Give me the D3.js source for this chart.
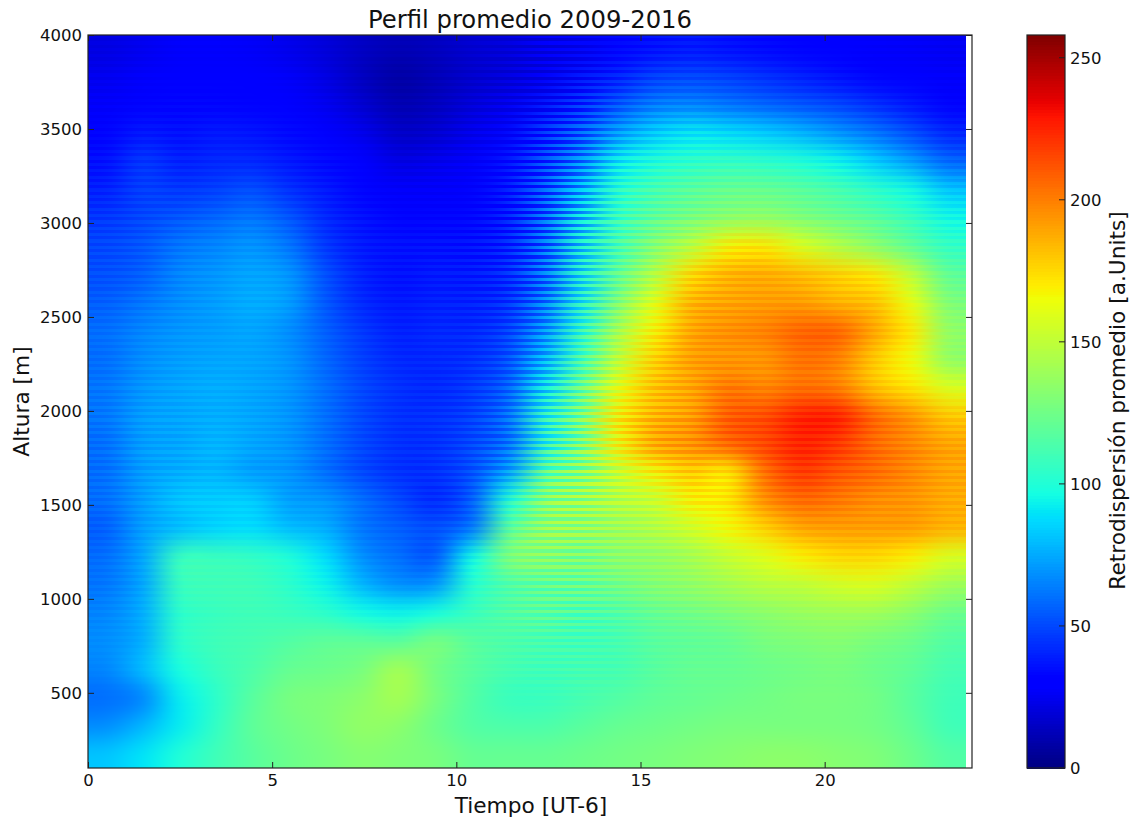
<!DOCTYPE html>
<html>
<head>
<meta charset="utf-8">
<script src="https://cdn.jsdelivr.net/npm/d3@7"></script>
<style>
    html, body { margin: 0; padding: 0; background: #fff; }
    text { font-family: "DejaVu Sans", sans-serif; fill: #111; }
</style>
</head>
<body>
<div id="chart"></div>
<script>
// centro de cada celda
var horas = [0.5,1.5,2.5,3.5,4.5,5.5,6.5,7.5,8.5,9.5,10.5,11.5,12.5,13.5,14.5,15.5,16.5,17.5,18.5,19.5,20.5,21.5,22.5,23.5];
var alturas = [3925,3775,3625,3475,3325,3175,3025,2875,2725,2575,2425,2275,2125,1975,1825,1675,1525,1375,1225,1075,925,775,625,475,325,175];

// retrodispersion promedio, una fila por altura
var valores = [
    [22,25,28,28,27,24,20,15,12,14,18,20,24,28,32,36,38,36,34,32,30,28,27,26],
    [25,28,30,30,29,27,22,14,8,12,17,20,26,32,40,48,50,48,44,40,36,32,30,28],
    [28,32,33,33,32,30,25,18,11,14,20,24,32,42,54,64,66,62,58,54,50,44,38,32],
    [32,38,36,38,37,34,30,24,16,18,24,30,40,54,72,84,90,88,84,78,70,62,52,42],
    [36,46,40,42,42,38,34,30,22,24,28,34,46,64,90,100,104,106,104,100,94,84,72,58],
    [40,48,46,48,52,44,38,32,28,28,30,36,50,74,102,112,118,122,122,118,112,104,96,82],
    [46,50,54,58,62,54,42,36,32,32,32,38,54,82,108,120,128,134,136,130,124,118,108,96],
    [50,54,62,66,70,62,46,38,36,36,36,40,56,88,112,132,148,170,172,158,146,134,120,106],
    [52,56,66,70,74,70,52,40,36,38,38,42,58,92,120,146,176,186,188,184,178,172,150,120],
    [56,62,68,72,76,72,54,42,38,40,40,44,62,96,130,160,186,190,192,192,186,182,162,130],
    [60,66,70,72,74,68,56,46,40,42,42,48,68,104,142,170,190,196,200,208,208,190,172,136],
    [60,68,72,74,74,70,58,48,42,42,44,52,76,112,150,178,192,194,194,204,200,180,165,136],
    [62,70,74,76,74,70,60,50,44,42,46,56,86,122,160,182,190,202,198,204,200,182,172,158],
    [62,72,74,76,74,70,60,50,44,44,48,60,98,126,170,186,192,210,214,226,226,206,194,180],
    [60,72,74,78,74,70,60,50,44,44,50,60,100,128,168,190,196,208,216,226,220,206,198,190],
    [60,72,76,78,72,70,60,50,44,44,52,72,118,132,152,170,180,172,205,220,212,206,198,190],
    [60,72,82,84,84,72,70,60,50,42,55,100,130,136,146,152,170,172,196,206,202,196,194,188],
    [56,72,80,86,88,80,76,62,56,52,62,118,135,136,140,146,155,166,178,190,192,192,192,186],
    [60,74,108,108,106,100,88,68,60,54,95,130,132,128,134,136,142,152,160,170,176,176,170,158],
    [62,74,108,110,110,104,94,78,68,70,102,115,120,122,126,132,136,142,148,150,156,158,150,140],
    [66,76,104,108,110,108,104,96,94,98,108,116,118,114,116,122,126,130,134,138,140,140,134,124],
    [68,76,104,110,112,116,120,120,118,128,118,114,112,110,112,118,120,122,128,130,132,128,124,116],
    [66,80,98,108,114,122,124,128,142,126,118,112,110,112,112,118,122,122,124,126,128,124,120,112],
    [60,66,92,104,118,128,130,134,142,128,116,108,108,112,116,120,122,124,126,128,128,126,118,110],
    [68,78,92,106,120,126,130,136,134,124,116,114,114,118,122,124,126,128,128,128,128,126,120,110],
    [82,90,100,110,118,124,128,132,130,128,122,122,122,124,126,128,130,132,134,134,132,130,124,116]
];

// diferencia entre filas pares e impares (las franjas de la imagen)
var franjaHora = [4,4,4,3,3,3,3,3,3,4,6,12,28,32,16,12,10,8,6,6,6,6,5,5];
var franjaAltura = [.35,.45,.55,.7,.8,.9,1,1,.9,.8,.7,.7,.8,1,1,1,.9,.7,.6,.6,.5,.3,.2,.05,0,0];

var ticksX = [0,5,10,15,20];
var ticksY = [500,1000,1500,2000,2500,3000,3500,4000];
var ticksBarra = [0,50,100,150,200,250];

var margin = {top: 35, right: 165, bottom: 51, left: 88}
    , width = 1137 - margin.left - margin.right
    , height = 819 - margin.top - margin.bottom;

var x = d3.scaleLinear().domain([0, 24]).range([0, width]);
var y = d3.scaleLinear().domain([100, 4000]).range([height, 0]);
var c = d3.scaleLinear().domain([0, 258]).range([height, 0]);

// mapa de color jet
var r = d3.scaleLinear().domain([0, 0.35, 0.66, 0.89, 1]).range([0, 0, 255, 255, 128]).clamp(true);
var g = d3.scaleLinear().domain([0, 0.125, 0.375, 0.64, 0.91, 1]).range([0, 0, 255, 255, 0, 0]).clamp(true);
var b = d3.scaleLinear().domain([0, 0.11, 0.34, 0.65, 1]).range([128, 255, 255, 0, 0]).clamp(true);
function jet(v) {
    var t = v / 258;
    return [Math.round(r(t)), Math.round(g(t)), Math.round(b(t))];
}

var chart = d3.select('#chart')
    .append('svg')
    .attr('width', 1137)
    .attr('height', 819)
    .style('display', 'block');

var main = chart.append('g')
    .attr('transform', 'translate(' + margin.left + ',' + margin.top + ')');

// la imagen acaba antes que el eje, en 23.85 h
var finImagen = 23.85;
var anchoImg = Math.round(x(finImagen));
var altoImg = Math.round(height);

// imagen suavizada para un signo de la franja (+1 o -1)
function capa(signo) {
    var celdas = document.createElement('canvas');
    celdas.width = horas.length;
    celdas.height = alturas.length;
    var ctx = celdas.getContext('2d');
    var datos = ctx.createImageData(horas.length, alturas.length);
    alturas.forEach(function(a, i) {
        horas.forEach(function(h, j) {
            var v = valores[i][j] + signo * franjaHora[j] * franjaAltura[i] / 2;
            var col = jet(v);
            var k = (i * horas.length + j) * 4;
            datos.data[k] = col[0];
            datos.data[k + 1] = col[1];
            datos.data[k + 2] = col[2];
            datos.data[k + 3] = 255;
        });
    });
    ctx.putImageData(datos, 0, 0);

    var suave = document.createElement('canvas');
    suave.width = anchoImg;
    suave.height = altoImg;
    var ctxSuave = suave.getContext('2d');
    ctxSuave.imageSmoothingEnabled = true;
    ctxSuave.imageSmoothingQuality = 'high';
    ctxSuave.drawImage(celdas, 0, 0, anchoImg, altoImg);
    return suave;
}

var capaA = capa(1);
var capaB = capa(-1);

var final = document.createElement('canvas');
final.width = anchoImg;
final.height = altoImg;
var ctxFinal = final.getContext('2d');
var franja = 17;      // metros
var nFranjas = Math.ceil((4000 - 100) / franja);
d3.range(nFranjas).forEach(function(i) {
    var y0 = Math.round(y(4000 - i * franja));
    var y1 = Math.round(y(Math.max(100, 4000 - (i + 1) * franja)));
    if (y1 > y0) {
        ctxFinal.drawImage(i % 2 == 0 ? capaA : capaB, 0, y0, anchoImg, y1 - y0, 0, y0, anchoImg, y1 - y0);
    }
});

main.append('image')
    .attr('x', 0)
    .attr('y', 0)
    .attr('width', anchoImg)
    .attr('height', altoImg)
    .attr('preserveAspectRatio', 'none')
    .attr('href', final.toDataURL('image/png'));

function estiloEje(sel) {
    sel.select('.domain').remove();
    sel.selectAll('.tick line').attr('stroke', '#222').attr('stroke-width', 1);
    sel.selectAll('.tick text').style('font-size', '16.5px').attr('fill', '#111');
}

// ejes con marcas hacia dentro
main.append('g')
    .attr('transform', 'translate(0,' + height + ')')
    .call(d3.axisBottom(x).tickValues(ticksX).tickFormat(d3.format('d')).tickSize(-6).tickPadding(6))
    .call(estiloEje);
main.append('g')
    .call(d3.axisTop(x).tickValues(ticksX).tickFormat('').tickSize(-6))
    .call(estiloEje);
main.append('g')
    .call(d3.axisLeft(y).tickValues(ticksY).tickFormat(d3.format('d')).tickSize(-6).tickPadding(6))
    .call(estiloEje);
main.append('g')
    .attr('transform', 'translate(' + width + ',0)')
    .call(d3.axisRight(y).tickValues(ticksY).tickFormat('').tickSize(-6))
    .call(estiloEje);

main.append('rect')
    .attr('width', width)
    .attr('height', height)
    .attr('fill', 'none')
    .attr('stroke', '#222')
    .attr('stroke-width', 1.2);

main.append('text')
    .attr('x', x(12))
    .attr('y', -7)
    .attr('text-anchor', 'middle')
    .style('font-size', '24.3px')
    .text('Perfil promedio 2009-2016');

main.append('text')
    .attr('x', x(12) + 1)
    .attr('y', height + 45)
    .attr('text-anchor', 'middle')
    .style('font-size', '21.7px')
    .text('Tiempo [UT-6]');

main.append('text')
    .attr('transform', 'translate(-59,' + (height / 2) + ') rotate(-90)')
    .attr('text-anchor', 'middle')
    .style('font-size', '21.7px')
    .text('Altura [m]');

// barra de color
var barra = chart.append('g')
    .attr('transform', 'translate(1027,' + margin.top + ')');
var anchoBarra = 38;

barra.selectAll('rect.nivel')
    .data(d3.range(0, 258))
    .enter()
    .append('rect')
    .attr('class', 'nivel')
    .attr('x', 0)
    .attr('y', function(d) { return c(d + 1); })
    .attr('width', anchoBarra)
    .attr('height', function(d) { return c(d) - c(d + 1) + 1; })
    .attr('shape-rendering', 'crispEdges')
    .attr('fill', function(d) { return 'rgb(' + jet(d + 0.5).join(',') + ')'; });

barra.append('g')
    .attr('transform', 'translate(' + anchoBarra + ',0)')
    .call(d3.axisRight(c).tickValues(ticksBarra).tickFormat(d3.format('d')).tickSize(0).tickPadding(5))
    .call(estiloEje);

barra.selectAll('line.marca')
    .data(ticksBarra)
    .enter()
    .append('line')
    .attr('class', 'marca')
    .attr('x1', anchoBarra - 6)
    .attr('x2', anchoBarra)
    .attr('y1', function(d) { return c(d); })
    .attr('y2', function(d) { return c(d); })
    .attr('stroke', '#222');

barra.append('rect')
    .attr('width', anchoBarra)
    .attr('height', height)
    .attr('fill', 'none')
    .attr('stroke', '#222')
    .attr('stroke-width', 1.2);

barra.append('text')
    .attr('transform', 'translate(' + (anchoBarra + 60) + ',' + (height * 0.5 - 1) + ') rotate(-90)')
    .attr('text-anchor', 'middle')
    .style('font-size', '21.7px')
    .text('Retrodispersión promedio [a.Units]');
</script>
</body>
</html>
